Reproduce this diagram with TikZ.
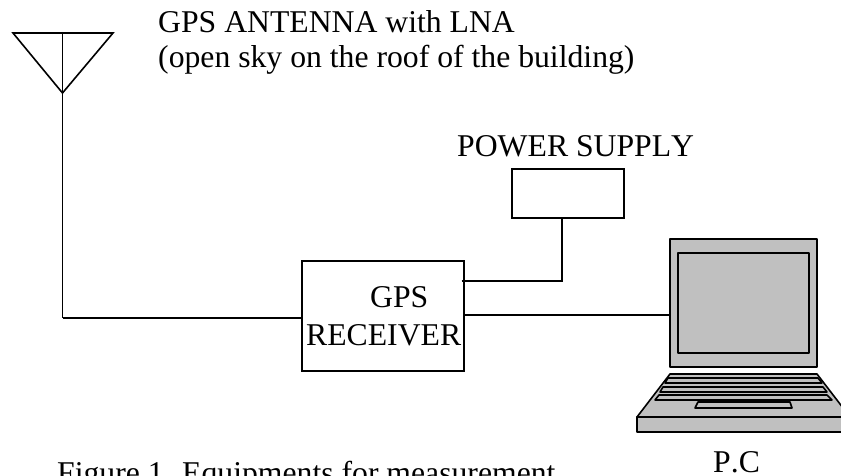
\documentclass[tikz,border=0pt]{standalone}
\usepackage{fontspec}
\setmainfont[Kerning=Off]{Liberation Serif}
\definecolor{lapgray}{RGB}{192,192,192}
\tikzset{
  wire/.style={draw=black,line width=1.6pt,line join=miter},
  box/.style={draw=black,line width=1.6pt,fill=white,inner sep=0pt},
  lap/.style={draw=black,line width=1.6pt,fill=lapgray,line join=round},
  lbl/.style={inner sep=0pt,anchor=base west,font=\fontsize{31.7}{32}\selectfont}
}
\begin{document}
\begin{tikzpicture}[x=1pt,y=-1pt]
\useasboundingbox (0,0) rectangle (841,476);
\clip (0,0) rectangle (841,476);
% antenna
\coordinate (antL) at (13,33);
\coordinate (antR) at (113,33);
\coordinate (antB) at (62.5,93);
\coordinate (antT) at (62.5,32);
\coordinate (antC) at (62.5,318);
\draw[wire] (antL) -- (antR) -- (antB) -- cycle;
\draw[wire] (antT) -- (antC);
% boxes
\node[box,minimum width=162pt,minimum height=110pt] (rcv) at (383,316) {};
\node[box,minimum width=112pt,minimum height=49pt] (psu) at (568,193.5) {};
% laptop
\draw[lap] (670,239) rectangle (817,367);
\draw[lap] (678,253) rectangle (809,353);
\draw[lap] (670,374) -- (817,374) -- (850,417) -- (637,417) -- cycle;
\draw[lap] (637,417) rectangle (850,432);
\draw[lap] (668,378) -- (818,378) -- (822,383) -- (665,383) -- cycle;
\draw[lap] (663,387) -- (823,387) -- (827,392) -- (660,392) -- cycle;
\draw[lap] (659,395) -- (827,395) -- (832,400) -- (655,400) -- cycle;
\draw[lap] (698,402) -- (790,402) -- (792,408) -- (695,408) -- cycle;
% connectors
\coordinate (rcvL) at (302,318);
\coordinate (rcvP) at (461.5,281);
\coordinate (bendP) at (562,281);
\coordinate (psuB) at (562,218);
\coordinate (rcvR) at (464,315);
\coordinate (scrP) at (670,315);
\draw[wire] (antC) -- (rcvL);
\draw[wire] (rcvP) -- (bendP) -- (psuB);
\draw[wire] (rcvR) -- (scrP);
% labels
\node[lbl] (t1) at (158,33) {GPS ANTENNA with LNA};
\node[lbl] (t2) at (158,68) {(open sky on the roof of the building)};
\node[lbl] (t3) at (457,157) {POWER SUPPLY};
\node[lbl] (t4) at (370,307) {GPS};
\node[lbl] (t5) at (306,345) {RECEIVER};
\node[lbl] (t6) at (57,483) {Figure 1. Equipments for measurement};
\node[lbl] (t7) at (713,472) {P.C};
\end{tikzpicture}
\end{document}
